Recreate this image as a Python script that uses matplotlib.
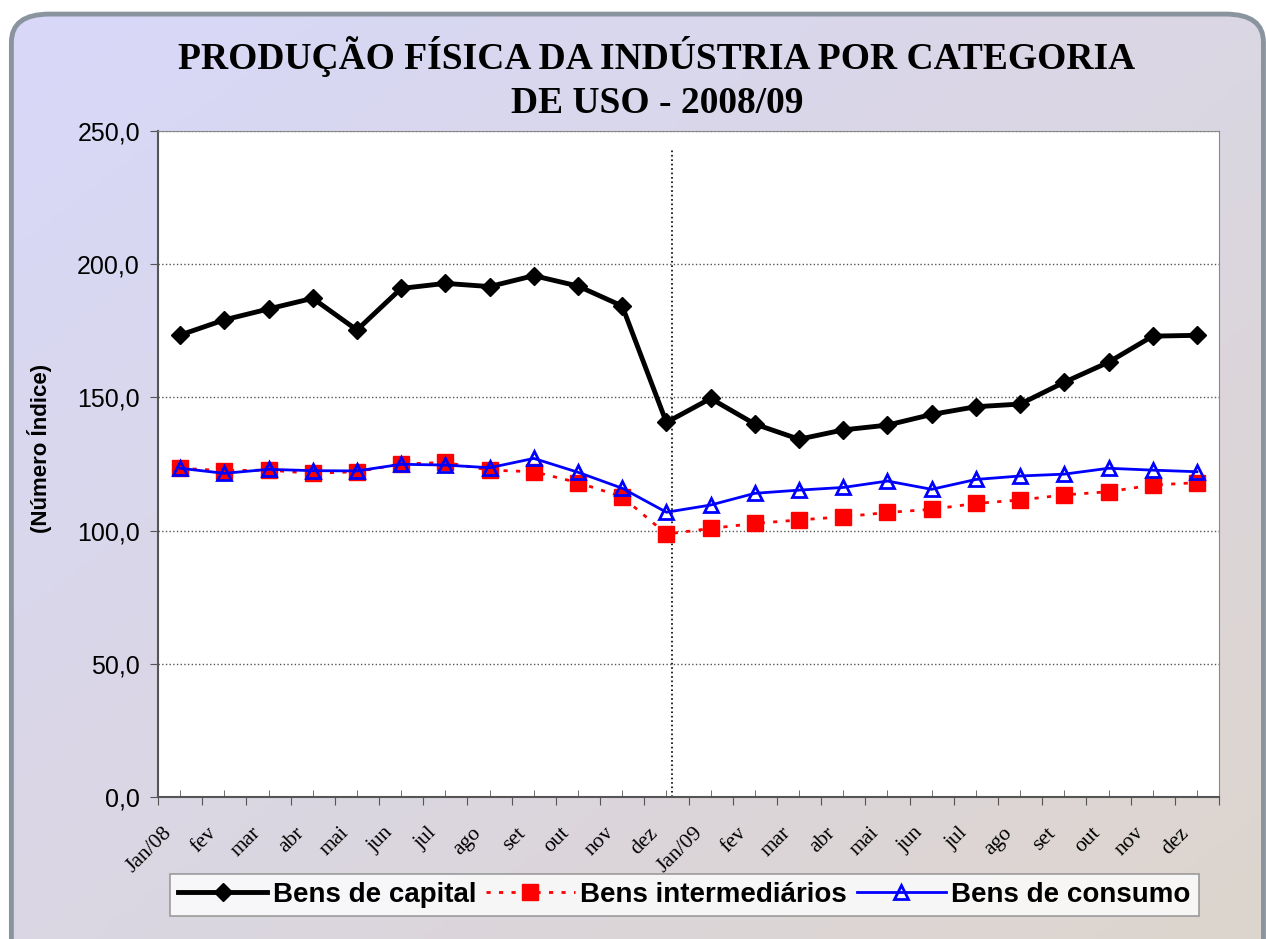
import numpy as np
import matplotlib.pyplot as plt
from matplotlib.patches import FancyBboxPatch

meses = ['Jan/08', 'fev', 'mar', 'abr', 'mai', 'jun', 'jul', 'ago', 'set', 'out', 'nov', 'dez',
         'Jan/09', 'fev', 'mar', 'abr', 'mai', 'jun', 'jul', 'ago', 'set', 'out', 'nov', 'dez']

bens_capital = [173.4, 179.1, 183.2, 187.2, 175.3, 190.9, 192.8, 191.6, 195.7, 191.8, 184.3, 140.6,
                149.6, 140.0, 134.3, 137.8, 139.6, 143.6, 146.5, 147.5, 155.7, 163.2, 173.0, 173.3]
bens_intermediarios = [123.4, 122.5, 122.7, 121.5, 122.1, 125.0, 125.6, 122.7, 122.1, 118.0, 112.7, 98.7,
                       100.8, 102.7, 104.0, 105.2, 106.8, 108.0, 110.2, 111.5, 113.4, 114.6, 117.1, 118.0]
bens_consumo = [123.4, 121.5, 123.0, 122.5, 122.4, 124.9, 124.6, 123.6, 127.1, 121.9, 115.9, 106.9,
                109.6, 114.0, 115.2, 116.2, 118.6, 115.5, 119.2, 120.5, 121.2, 123.4, 122.7, 122.1]

fig = plt.figure(figsize=(12.66, 9.39), dpi=100)

# fundo em degradê com borda arredondada
bg = fig.add_axes([0, 0, 1, 1], zorder=-10)
bg.set_xlim(0, 1)
bg.set_ylim(0, 1)
bg.axis('off')
c1 = np.array([216, 216, 250]) / 255
c2 = np.array([221, 213, 205]) / 255
xx, yy = np.meshgrid(np.linspace(0, 1, 200), np.linspace(0, 1, 200))
t = (xx + yy) / 2
grad = c1[None, None, :] * (1 - t[..., None]) + c2[None, None, :] * t[..., None]
caixa = FancyBboxPatch((0.009, -0.05), 0.989, 1.035, boxstyle='round,pad=0,rounding_size=0.03',
                       transform=bg.transAxes, facecolor='none', edgecolor='#8A949E', linewidth=3.5)
bg.add_patch(caixa)
img = bg.imshow(grad, extent=[0, 1, 0, 1], aspect='auto', zorder=0)
img.set_clip_path(caixa)

ax = fig.add_axes([0.1248, 0.1512, 0.8381, 0.7093])
x = np.arange(len(meses))

ax.plot(x, bens_intermediarios, color='red', linestyle=(0, (1.5, 3)), linewidth=2,
        marker='s', markersize=11, markerfacecolor='red', markeredgecolor='red',
        label='Bens intermediários', zorder=3)
ax.plot(x, bens_consumo, color='blue', linewidth=2, marker='^', markersize=10,
        markerfacecolor='none', markeredgecolor='blue', markeredgewidth=2,
        label='Bens de consumo', zorder=4)
ax.plot(x, bens_capital, color='black', linewidth=3.5, marker='D', markersize=9,
        label='Bens de capital', zorder=5)

# linha vertical separando os anos
ax.plot([11.12, 11.12], [0, 243.5], color='black', linestyle=':', linewidth=1.2, zorder=2)

ax.set_xlim(-0.5, len(meses) - 0.5)
ax.set_ylim(0, 250)
ax.set_yticks([0, 50, 100, 150, 200, 250])
ax.set_yticklabels(['0,0', '50,0', '100,0', '150,0', '200,0', '250,0'],
                   fontfamily='Liberation Sans', fontsize=18)
ax.yaxis.grid(True, linestyle=':', color='#555555', linewidth=1)
ax.set_axisbelow(True)

ax.set_xticks(np.arange(-0.5, len(meses), 1))
ax.set_xticklabels([])
ax.set_xticks(x, minor=True)
ax.tick_params(axis='x', which='major', direction='out', length=6, color='#555555')
ax.tick_params(axis='x', which='minor', direction='in', length=5, color='#555555')
ax.tick_params(axis='y', direction='out', length=6, color='#555555', pad=7)

# rótulos dos meses inclinados, um pouco à esquerda do centro da categoria
for i, mes in enumerate(meses):
    ax.annotate(mes, xy=(i - 0.25, 0), xycoords=('data', 'axes fraction'),
                xytext=(0, -24), textcoords='offset points', rotation=45,
                ha='right', va='center', rotation_mode='anchor',
                fontfamily='Liberation Serif', fontsize=15.5)

for lado in ['top', 'right']:
    ax.spines[lado].set_color('#888888')
for lado in ['left', 'bottom']:
    ax.spines[lado].set_color('#555555')
    ax.spines[lado].set_linewidth(1.5)

ax.set_ylabel('(Número Índice)', fontfamily='Liberation Sans', fontweight='bold', fontsize=16)
ax.yaxis.set_label_coords(-0.1, 0.524)

fig.text(0.519, 0.9164, 'PRODUÇÃO FÍSICA DA INDÚSTRIA POR CATEGORIA\nDE USO - 2008/09', ha='center', va='center',
         fontfamily='Liberation Serif', fontweight='bold', fontsize=27, linespacing=1.3)

handles, labels = ax.get_legend_handles_labels()
ordem = [2, 0, 1]
leg = fig.legend([handles[i] for i in ordem], [labels[i] for i in ordem], loc='center',
                 bbox_to_anchor=(0.5407, 0.0469), ncol=3, frameon=True, fancybox=False,
                 prop={'family': 'Liberation Sans', 'weight': 'bold', 'size': 20},
                 handlelength=3.2, handletextpad=0.2, columnspacing=0.35, borderpad=0.3)
leg.get_frame().set_edgecolor('#888888')
leg.get_frame().set_linewidth(1.2)

fig.savefig('out.png', dpi=100)
